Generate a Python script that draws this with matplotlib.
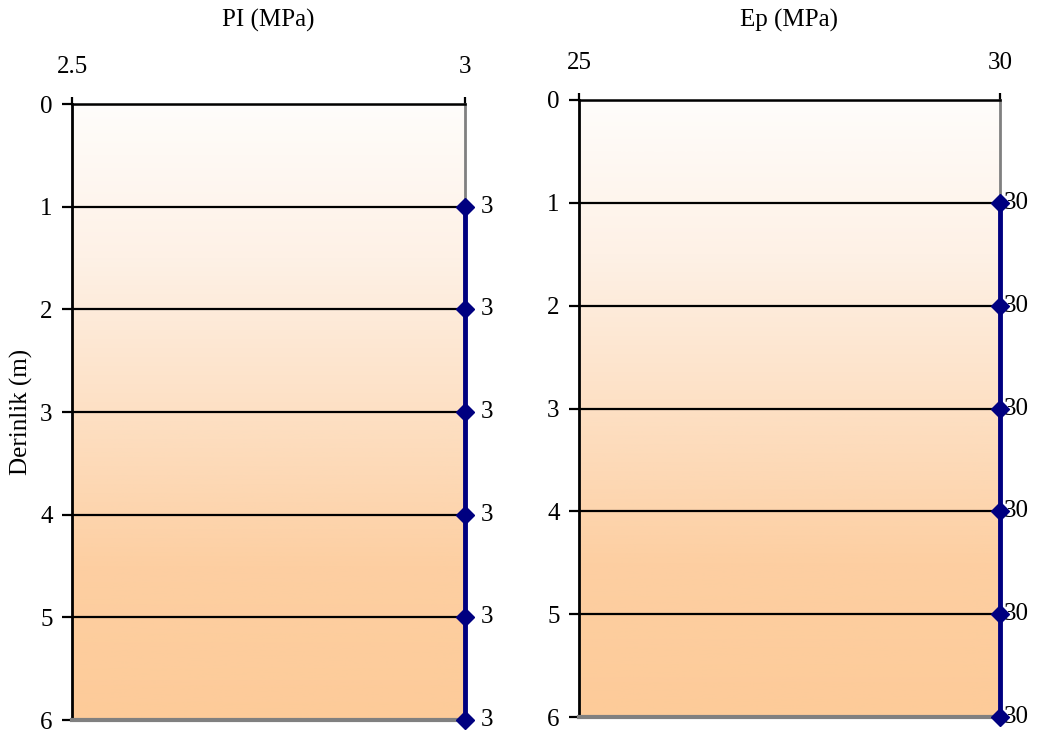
import numpy as np
import matplotlib
matplotlib.use("Agg")
import matplotlib.pyplot as plt
from matplotlib.colors import LinearSegmentedColormap

plt.rcParams['font.family'] = ['Liberation Serif', 'DejaVu Serif']
plt.rcParams['font.size'] = 18

depth = [1, 2, 3, 4, 5, 6]
pl_values = [3, 3, 3, 3, 3, 3]
ep_values = [30, 30, 30, 30, 30, 30]
depth_ticks = [0, 1, 2, 3, 4, 5, 6]

panels = [
    dict(title="PI (MPa)", values=pl_values, xlim=(2.5, 3), xticks=[2.5, 3],
         xticklabels=["2.5", "3"], labels=["3"] * 6, pos=[0.0692, 0.0177, 0.3775, 0.8404],
         label_dx=11, ylabel="Derinlik (m)"),
    dict(title="Ep (MPa)", values=ep_values, xlim=(25, 30), xticks=[25, 30],
         xticklabels=["25", "30"], labels=["30"] * 6, pos=[0.5562, 0.0218, 0.4044, 0.8418],
         label_dx=3, ylabel=None),
]

soil = LinearSegmentedColormap.from_list(
    "soil", ["#FFFDFB", "#FEF1E6", "#FDE0C4", "#FDCFA2", "#FDCB99"])

fig = plt.figure(figsize=(10.41, 7.33), dpi=100)

for p in panels:
    ax = fig.add_axes(p["pos"])
    x0, x1 = p["xlim"]
    grad = np.linspace(0, 1, 256).reshape(-1, 1)
    ax.imshow(grad, extent=[x0, x1, 6, 0], aspect="auto", cmap=soil,
              interpolation="bicubic", zorder=0)
    ax.set_xlim(x0, x1)
    ax.set_ylim(6, 0)

    for d in depth_ticks[:-1]:
        ax.axhline(d, color="black", lw=1.6, zorder=1)

    ax.plot(p["values"], depth, color="#000080", lw=3.5, marker="D",
            markersize=9, markerfacecolor="#000080", markeredgecolor="#000080",
            zorder=5, clip_on=False)
    for v, d, lab in zip(p["values"], depth, p["labels"]):
        ax.annotate(lab, (v, d), xytext=(p["label_dx"], 0), textcoords="offset points",
                    ha="left", va="center", fontsize=18, annotation_clip=False)

    ax.xaxis.tick_top()
    ax.set_xticks(p["xticks"])
    ax.set_xticklabels(p["xticklabels"])
    ax.set_yticks(depth_ticks)
    ax.tick_params(axis="x", direction="out", length=5, width=1.6, pad=14, top=True, bottom=False)
    ax.tick_params(axis="y", direction="out", length=7, width=1.6, pad=7)

    ax.spines["top"].set_color("black")
    ax.spines["top"].set_linewidth(1.8)
    ax.spines["left"].set_color("black")
    ax.spines["left"].set_linewidth(2)
    ax.spines["right"].set_color("#808080")
    ax.spines["right"].set_linewidth(2)
    ax.spines["bottom"].set_color("#808080")
    ax.spines["bottom"].set_linewidth(3)

    # panel title placed in figure coordinates above the axis block
    cx = (p["pos"][0] + p["pos"][2] / 2)
    fig.text(cx, 1 - 20 / 733, p["title"], ha="center", va="center", fontsize=18)

fig.text(21 / 1041, 1 - 412 / 733, "Derinlik (m)", rotation=90, ha="center",
         va="center", fontsize=18)

fig.savefig("out.png", dpi=100)
